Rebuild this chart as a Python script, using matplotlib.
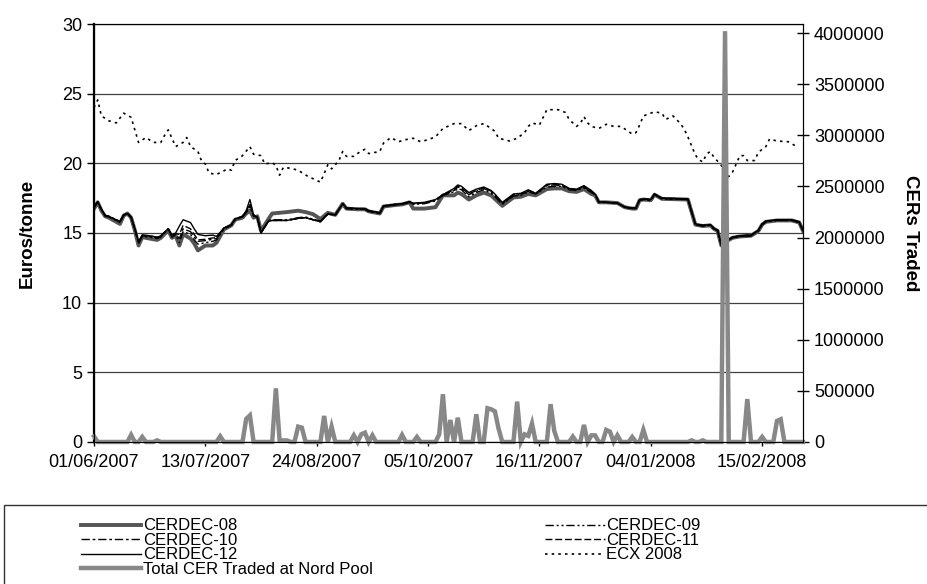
import numpy as np
import matplotlib
matplotlib.use('Agg')
import matplotlib.pyplot as plt
from matplotlib.patches import Rectangle
from matplotlib.ticker import FuncFormatter

plt.rcParams['font.family'] = ['Liberation Sans', 'DejaVu Sans']

# Торговые дни (индекс от 01/06/2007), подписи оси X каждые 30 дней
tick_days = [0, 30, 60, 90, 120, 150, 180]
tick_labels = ['01/06/2007', '13/07/2007', '24/08/2007', '05/10/2007',
               '16/11/2007', '04/01/2008', '15/02/2008']
n_days = 192

# Цены CER-контрактов (евро/тонна)
cer_days = [0, 1, 2, 3, 4, 6, 7, 8, 9, 10,
            11, 12, 13, 15, 17, 18, 20, 21, 22, 23,
            24, 26, 27, 28, 30, 32, 33, 35, 37, 38,
            40, 41, 42, 43, 44, 45, 47, 48, 50, 52,
            55, 57, 59, 61, 63, 65, 67, 68, 71, 73,
            74, 77, 78, 81, 83, 85, 86, 89, 92, 94,
            97, 98, 99, 101, 103, 105, 107, 108, 110, 113,
            115, 117, 119, 122, 124, 126, 128, 130, 132, 134,
            135, 136, 138, 141, 143, 145, 146, 147, 148, 150,
            151, 152, 153, 160, 161, 162, 164, 166, 167, 168,
            169, 170, 171, 172, 174, 177, 179, 180, 181, 184,
            188, 190, 191]

cerdec_08 = [16.75, 17.2, 16.6, 16.2, 16.1, 15.8, 15.65, 16.25, 16.4, 16.1,
             15.2, 14.1, 14.7, 14.6, 14.5, 14.65, 15.2, 14.65, 14.8, 14.1,
             14.9, 14.6, 14.25, 13.75, 14.1, 14.1, 14.3, 15.25, 15.55, 15.95,
             16.1, 16.4, 16.6, 16.1, 16.2, 15.15, 16.0, 16.4, 16.45, 16.5,
             16.6, 16.5, 16.35, 16.0, 16.45, 16.3, 17.1, 16.75, 16.7, 16.7,
             16.55, 16.4, 16.9, 17.0, 17.05, 17.2, 16.75, 16.75, 16.85, 17.7,
             17.7, 17.9, 17.8, 17.4, 17.7, 17.9, 17.7, 17.45, 16.95, 17.55,
             17.6, 17.8, 17.7, 18.15, 18.2, 18.2, 18.0, 17.95, 18.15, 17.8,
             17.7, 17.2, 17.2, 17.15, 16.85, 16.75, 16.75, 17.35, 17.4, 17.35,
             17.75, 17.6, 17.45, 17.4, 16.5, 15.6, 15.5, 15.55, 15.3, 15.15,
             14.1, 14.3, 14.5, 14.65, 14.75, 14.8, 15.15, 15.6, 15.8, 15.9,
             15.9, 15.75, 15.15]

cerdec_09 = [16.8, 17.2, 16.65, 16.2, 16.15, 15.9, 15.75, 16.25, 16.4, 16.1,
             15.25, 14.25, 14.75, 14.7, 14.6, 14.7, 15.25, 14.7, 14.85, 14.3,
             15.1, 14.9, 14.5, 14.2, 14.3, 14.4, 14.5, 15.3, 15.55, 15.95,
             16.15, 16.45, 16.9, 16.2, 16.15, 15.05, 15.9, 15.95, 15.95, 15.95,
             16.1, 16.15, 16.0, 15.85, 16.4, 16.3, 17.1, 16.75, 16.7, 16.7,
             16.55, 16.4, 16.9, 17.0, 17.05, 17.2, 17.05, 17.1, 17.3, 17.7,
             17.95, 18.2, 18.1, 17.6, 17.9, 18.1, 17.85, 17.6, 17.05, 17.65,
             17.7, 17.95, 17.8, 18.3, 18.35, 18.35, 18.1, 18.05, 18.25, 17.9,
             17.75, 17.2, 17.2, 17.15, 16.85, 16.75, 16.75, 17.35, 17.4, 17.35,
             17.75, 17.6, 17.45, 17.4, 16.5, 15.6, 15.5, 15.55, 15.3, 15.15,
             14.1, 14.3, 14.5, 14.65, 14.75, 14.8, 15.15, 15.6, 15.8, 15.9,
             15.9, 15.75, 15.15]

cerdec_10 = [16.85, 17.2, 16.7, 16.25, 16.2, 15.95, 15.85, 16.3, 16.4, 16.1,
             15.3, 14.3, 14.8, 14.75, 14.65, 14.75, 15.3, 14.75, 14.9, 14.6,
             15.3, 15.1, 14.7, 14.4, 14.45, 14.55, 14.6, 15.3, 15.55, 15.95,
             16.15, 16.5, 17.0, 16.25, 16.1, 15.05, 15.85, 15.9, 15.9, 15.9,
             16.05, 16.1, 15.95, 15.85, 16.4, 16.3, 17.1, 16.75, 16.7, 16.7,
             16.55, 16.4, 16.9, 17.0, 17.1, 17.2, 17.1, 17.15, 17.35, 17.7,
             18.05, 18.3, 18.2, 17.75, 18.0, 18.2, 17.95, 17.7, 17.1, 17.7,
             17.75, 18.0, 17.8, 18.4, 18.45, 18.4, 18.15, 18.1, 18.3, 17.95,
             17.75, 17.2, 17.2, 17.15, 16.85, 16.75, 16.75, 17.35, 17.4, 17.35,
             17.75, 17.6, 17.45, 17.4, 16.5, 15.6, 15.5, 15.55, 15.3, 15.15,
             14.1, 14.3, 14.5, 14.65, 14.75, 14.8, 15.15, 15.6, 15.8, 15.9,
             15.9, 15.75, 15.15]

cerdec_11 = [16.9, 17.25, 16.7, 16.25, 16.2, 15.95, 15.85, 16.3, 16.4, 16.15,
             15.3, 14.35, 14.85, 14.8, 14.7, 14.8, 15.3, 14.8, 14.95, 14.9,
             15.55, 15.3, 14.9, 14.5, 14.55, 14.65, 14.65, 15.35, 15.6, 16.0,
             16.2, 16.55, 17.1, 16.3, 16.1, 15.0, 15.85, 15.9, 15.9, 15.9,
             16.05, 16.1, 15.95, 15.8, 16.35, 16.3, 17.1, 16.8, 16.75, 16.75,
             16.6, 16.45, 16.95, 17.05, 17.1, 17.25, 17.1, 17.15, 17.35, 17.75,
             18.1, 18.35, 18.25, 17.8, 18.05, 18.25, 18.0, 17.75, 17.15, 17.75,
             17.8, 18.05, 17.85, 18.45, 18.5, 18.45, 18.2, 18.1, 18.35, 18.0,
             17.8, 17.25, 17.2, 17.15, 16.85, 16.8, 16.8, 17.4, 17.45, 17.4,
             17.8, 17.65, 17.5, 17.45, 16.55, 15.65, 15.55, 15.6, 15.35, 15.2,
             14.15, 14.35, 14.55, 14.7, 14.8, 14.85, 15.2, 15.65, 15.85, 15.95,
             15.95, 15.8, 15.2]

cerdec_12 = [16.9, 17.25, 16.7, 16.25, 16.2, 15.9, 15.8, 16.3, 16.4, 16.15,
             15.3, 14.4, 14.85, 14.8, 14.7, 14.8, 15.3, 14.85, 15.0, 15.5,
             15.95, 15.75, 15.3, 14.9, 14.8, 14.85, 14.75, 15.35, 15.6, 16.0,
             16.2, 16.6, 17.4, 16.3, 16.1, 15.0, 15.85, 15.9, 15.9, 15.9,
             16.05, 16.1, 15.95, 15.8, 16.35, 16.3, 17.1, 16.8, 16.75, 16.75,
             16.6, 16.45, 16.95, 17.05, 17.1, 17.25, 17.15, 17.2, 17.4, 17.75,
             18.2, 18.45, 18.35, 17.9, 18.15, 18.3, 18.05, 17.8, 17.2, 17.8,
             17.85, 18.1, 17.85, 18.5, 18.55, 18.5, 18.2, 18.15, 18.4, 18.05,
             17.8, 17.25, 17.2, 17.15, 16.85, 16.8, 16.8, 17.4, 17.45, 17.4,
             17.8, 17.65, 17.5, 17.45, 16.55, 15.65, 15.55, 15.6, 15.35, 15.2,
             14.15, 14.35, 14.55, 14.7, 14.8, 14.85, 15.2, 15.65, 15.85, 15.95,
             15.95, 15.8, 15.2]

# Цена ECX 2008
ecx_days = [0, 1, 2, 4, 6, 8, 10, 11, 12, 14,
            16, 18, 19, 20, 22, 24, 25, 26, 28, 29,
            30, 31, 33, 36, 37, 38, 40, 42, 43, 45,
            46, 48, 49, 50, 51, 53, 55, 58, 59, 61,
            62, 63, 64, 66, 67, 68, 70, 72, 73, 74,
            77, 78, 80, 82, 84, 86, 88, 90, 92, 94,
            97, 99, 101, 103, 105, 107, 108, 109, 112, 114,
            116, 117, 118, 120, 121, 122, 125, 127, 128, 130,
            131, 132, 133, 134, 136, 138, 140, 142, 145, 146,
            147, 148, 151, 153, 154, 156, 158, 159, 160, 161,
            162, 163, 164, 165, 166, 167, 169, 170, 171, 172,
            173, 174, 175, 176, 178, 179, 181, 182, 184, 187,
            189]
ecx_2008 = [24.0, 24.55, 23.4, 23.05, 22.9, 23.6, 23.3, 22.4, 21.5, 21.85,
            21.5, 21.5, 22.0, 22.4, 21.2, 21.5, 21.85, 21.2, 20.85, 20.15,
            19.95, 19.3, 19.2, 19.6, 19.5, 20.2, 20.55, 21.2, 20.65, 20.55,
            19.95, 20.05, 19.85, 19.15, 19.7, 19.65, 19.5, 19.0, 18.9, 18.65,
            19.25, 19.9, 19.6, 20.2, 20.85, 20.5, 20.5, 20.9, 21.0, 20.7,
            20.85, 21.45, 21.85, 21.55, 21.7, 21.8, 21.55, 21.7, 21.9, 22.5,
            22.85, 22.85, 22.35, 22.7, 22.85, 22.5, 22.3, 21.8, 21.6, 21.8,
            22.2, 22.65, 22.9, 22.75, 23.3, 23.85, 23.85, 23.65, 23.15, 22.65,
            22.85, 23.35, 22.9, 22.65, 22.5, 22.8, 22.65, 22.65, 22.1, 22.2,
            22.75, 23.4, 23.7, 23.6, 23.15, 23.4, 22.85, 22.45, 21.9, 21.25,
            20.6, 20.25, 20.1, 20.65, 20.85, 20.45, 19.85, 19.3, 19.05, 19.35,
            19.95, 20.55, 20.55, 20.2, 20.2, 20.8, 21.2, 21.75, 21.6, 21.55,
            21.25]

# Объём торгов CER на Nord Pool (дни без торгов = 0)
vol_days = [0, 10, 13, 17, 34, 41, 42, 49, 50, 51, 52, 55, 56, 62, 64,
            70, 72, 73, 75, 83, 87, 93, 94, 96, 98, 103, 106, 107, 108, 109,
            114, 116, 117, 118, 123, 124, 129, 132, 134, 135, 138, 139, 141,
            145, 148, 161, 164, 170, 176, 180, 184, 185]
vol_vals = [55000, 69000, 49000, 16000, 55000, 225000, 260000, 525000, 15000,
            15000, 15000, 150000, 140000, 255000, 150000,
            65000, 75000, 91000, 65000, 69000, 49000, 75000, 467000, 215000,
            238000, 271000, 330000, 320000, 300000, 130000,
            395000, 75000, 60000, 180000, 370000, 108000, 52000, 167000,
            65000, 65000, 118000, 101000, 65000,
            49000, 118000, 16000, 16000, 4020000, 420000, 49000, 206000, 222000]

volume = np.zeros(n_days)
volume[vol_days] = vol_vals
days = np.arange(n_days)

fig = plt.figure(figsize=(9.27, 5.84), dpi=100)
ax1 = fig.add_axes([0.1014, 0.2432, 0.7648, 0.7157])

# Цены
l08, = ax1.plot(cer_days, cerdec_08, color='#555555', lw=2.8, label='CERDEC-08')
l09, = ax1.plot(cer_days, cerdec_09, color='black', lw=1.0,
                linestyle=(0, (6, 2, 1.5, 2, 1.5, 2)), label='CERDEC-09')
l10, = ax1.plot(cer_days, cerdec_10, color='black', lw=1.0,
                linestyle=(0, (6, 2, 2, 2)), label='CERDEC-10')
l11, = ax1.plot(cer_days, cerdec_11, color='black', lw=1.0,
                linestyle=(0, (5, 2)), label='CERDEC-11')
l12, = ax1.plot(cer_days, cerdec_12, color='black', lw=1.0, label='CERDEC-12')
lecx, = ax1.plot(ecx_days, ecx_2008, color='black', lw=1.2,
                 linestyle=(0, (1.5, 2.5)), label='ECX 2008')

ax1.set_xlim(0, n_days - 1)
ax1.set_ylim(0, 30)
ax1.set_yticks(range(0, 31, 5))
ax1.set_xticks(tick_days)
ax1.set_xticklabels(tick_labels)
ax1.grid(axis='y', color='#404040', lw=0.9)
ax1.set_axisbelow(True)
ax1.tick_params(axis='both', labelsize=13, colors='black')
ax1.tick_params(axis='y', direction='out', length=5, width=1)
ax1.tick_params(axis='x', direction='out', length=3, width=1, pad=6)
ax1.set_ylabel('Euros/tonne', fontsize=13.5, fontweight='bold', va='center')
ax1.yaxis.set_label_coords(-0.0945, 0.5)
ax1.spines['left'].set_linewidth(1.6)

# Объём на второй оси
ax2 = ax1.twinx()
lvol, = ax2.plot(days, volume, color='#888888', lw=3.2, clip_on=False,
                 solid_joinstyle='miter', label='Total CER Traded at Nord Pool')
ax2.set_ylim(0, 4090000)
ax2.set_yticks(range(0, 4000001, 500000))
ax2.yaxis.set_major_formatter(FuncFormatter(lambda v, p: f'{int(v)}'))
ax2.tick_params(axis='y', labelsize=13, direction='inout', length=9, width=1)
ax2.set_ylabel('CERs Traded', fontsize=13.5, fontweight='bold', rotation=270,
               va='center')
ax2.yaxis.set_label_coords(1.152, 0.5)

# Легенда в рамке внизу
fig.patches.append(Rectangle((4 / 927, -0.02), 1.0, 0.02 + 79 / 584,
                             transform=fig.transFigure, fill=False,
                             edgecolor='#333333', lw=1))
handles = [l08, l10, l12, lvol, l09, l11, lecx]
fig.legend(handles=handles, labels=[h.get_label() for h in handles],
           loc='upper left', bbox_to_anchor=(73 / 927, 1 - 510 / 584),
           ncol=2, frameon=False, borderpad=0, handlelength=3.6,
           handletextpad=0.1, labelspacing=-0.03, columnspacing=10.3,
           prop={'family': 'Liberation Sans', 'size': 12})

plt.savefig('out.png', dpi=100)
plt.close()
